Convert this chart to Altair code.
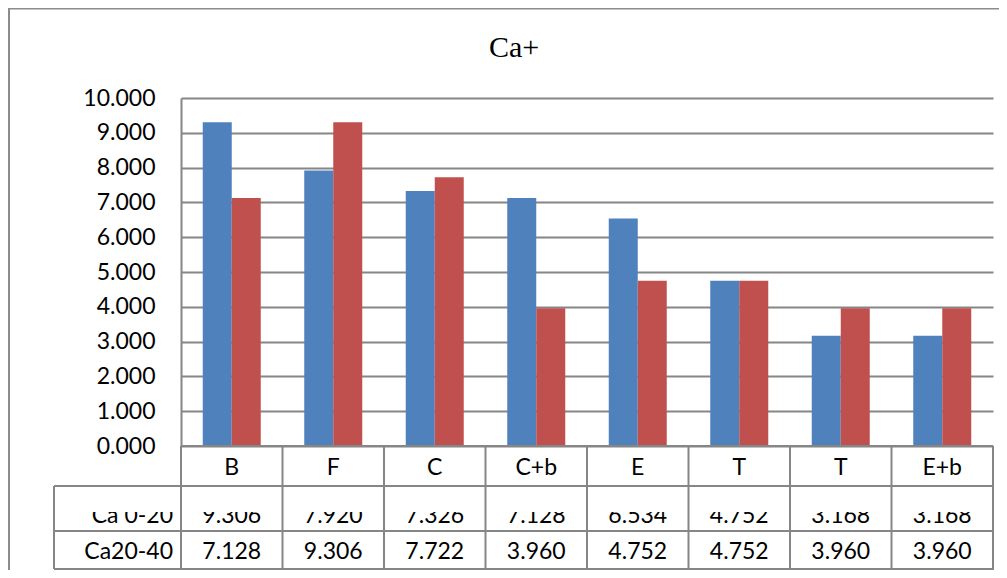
import altair as alt
import pandas as pd

# ---- data ----
categories = ["B", "F", "C", "C+b", "E", "T", "T", "E+b"]
ca_0_20 = [9.306, 7.920, 7.326, 7.128, 6.534, 4.752, 3.168, 3.168]
ca_20_40 = [7.128, 9.306, 7.722, 3.960, 4.752, 4.752, 3.960, 3.960]
series_names = ["Ca 0-20", "Ca20-40"]
series_colors = ["#4F81BD", "#C0504D"]
y_ticks = [0, 1, 2, 3, 4, 5, 6, 7, 8, 9, 10]
title_text = "Ca+"

# unique keys (category "T" appears twice)
keys = [f"k{i}" for i in range(len(categories))]

wide = pd.DataFrame({"key": keys, "label": categories, "v1": ca_0_20, "v2": ca_20_40})
long = pd.DataFrame(
    {
        "key": keys + keys,
        "series": [series_names[0]] * len(keys) + [series_names[1]] * len(keys),
        "value": ca_0_20 + ca_20_40,
    }
)
dummy = pd.DataFrame({"d": [0]})

W, H = 812, 348
GRID = "#868686"
LW = 2
FONT = "Lato"
FS = 23

xscale = alt.Scale(paddingInner=0, paddingOuter=0)


def X(**kw):
    return alt.X("key:O", sort=keys, scale=xscale, axis=None, **kw)


bars = (
    alt.Chart(long)
    .mark_bar()
    .encode(
        x=X(),
        xOffset=alt.XOffset(
            "series:N", sort=series_names, scale=alt.Scale(paddingInner=0, paddingOuter=0.75)
        ),
        y=alt.Y(
            "value:Q",
            scale=alt.Scale(domain=[0, 10], nice=False),
            axis=alt.Axis(
                values=y_ticks,
                format=".3f",
                title=None,
                ticks=False,
                labelPadding=26,
                labelFont=FONT,
                labelFontSize=FS,
                labelColor="black",
                domain=True,
                domainColor=GRID,
                domainWidth=LW,
                grid=True,
                gridColor=GRID,
                gridWidth=LW,
                gridOpacity=1,
            ),
        ),
        color=alt.Color(
            "series:N", scale=alt.Scale(domain=series_names, range=series_colors), legend=None
        ),
    )
)

row1_vals = (
    alt.Chart(wide)
    .mark_text(font=FONT, fontSize=FS, baseline="alphabetic", color="black")
    .encode(x=X(), y=alt.value(425), text=alt.Text("v1:Q", format=".3f"))
)
row1_lab = (
    alt.Chart(pd.DataFrame({"name": [series_names[0]]}))
    .mark_text(font=FONT, fontSize=FS, baseline="alphabetic", align="right", color="black")
    .encode(x=alt.value(-8), y=alt.value(425), text="name:N")
)
# the reference shows the upper half of this row cut off
clip_rect = (
    alt.Chart(dummy)
    .mark_rect(color="white")
    .encode(x=alt.value(-125), x2=alt.value(811), y=alt.value(390), y2=alt.value(414))
)

row2_vals = (
    alt.Chart(wide)
    .mark_text(font=FONT, fontSize=FS, baseline="alphabetic", color="black")
    .encode(x=X(), y=alt.value(461), text=alt.Text("v2:Q", format=".3f"))
)
row2_lab = (
    alt.Chart(pd.DataFrame({"name": [series_names[1]]}))
    .mark_text(font=FONT, fontSize=FS, baseline="alphabetic", align="right", color="black")
    .encode(x=alt.value(-8), y=alt.value(461), text="name:N")
)
cat_labels = (
    alt.Chart(wide)
    .mark_text(font=FONT, fontSize=FS, baseline="alphabetic", color="black")
    .encode(x=X(), y=alt.value(377), text="label:N")
)


def hline(y, x1, x2, color=GRID, w=LW):
    return (
        alt.Chart(dummy)
        .mark_rule(color=color, strokeWidth=w)
        .encode(x=alt.value(x1), x2=alt.value(x2), y=alt.value(y))
    )


def vline(x, y1, y2, color=GRID, w=LW):
    return (
        alt.Chart(dummy)
        .mark_rule(color=color, strokeWidth=w)
        .encode(x=alt.value(x), y=alt.value(y1), y2=alt.value(y2))
    )


col_seps = (
    alt.Chart(wide)
    .mark_rule(color=GRID, strokeWidth=LW)
    .encode(x=X(bandPosition=0), y=alt.value(H), y2=alt.value(471))
)
col_last = (
    alt.Chart(wide.tail(1))
    .mark_rule(color=GRID, strokeWidth=LW)
    .encode(x=X(bandPosition=1), y=alt.value(H), y2=alt.value(471))
)

title = (
    alt.Chart(pd.DataFrame({"t": [title_text]}))
    .mark_text(font="Liberation Serif", fontSize=30, baseline="alphabetic", color="black")
    .encode(x=alt.value(333), y=alt.value(-41), text="t:N")
)

chart = (
    alt.layer(
        bars,
        row1_vals,
        row1_lab,
        clip_rect,
        row2_vals,
        row2_lab,
        cat_labels,
        hline(H, 0, W),
        hline(388, -127, W + 1),
        hline(433, -127, W + 1),
        hline(471, -127, W + 1),
        vline(-127, 388, 471),
        col_seps,
        col_last,
        title,
        vline(-172, -91, 480, color="#8c8c8c"),
        hline(-89.5, -173, W + 20, color="#8c8c8c"),
    )
    .properties(
        width=W,
        height=H,
        padding={"left": 173, "top": 90, "right": 6, "bottom": 124},
        autosize=alt.AutoSizeParams(type="none"),
        background="white",
    )
    .configure_view(stroke=None)
)

chart.save("out.html", embed_options={"renderer": "svg", "actions": False})
